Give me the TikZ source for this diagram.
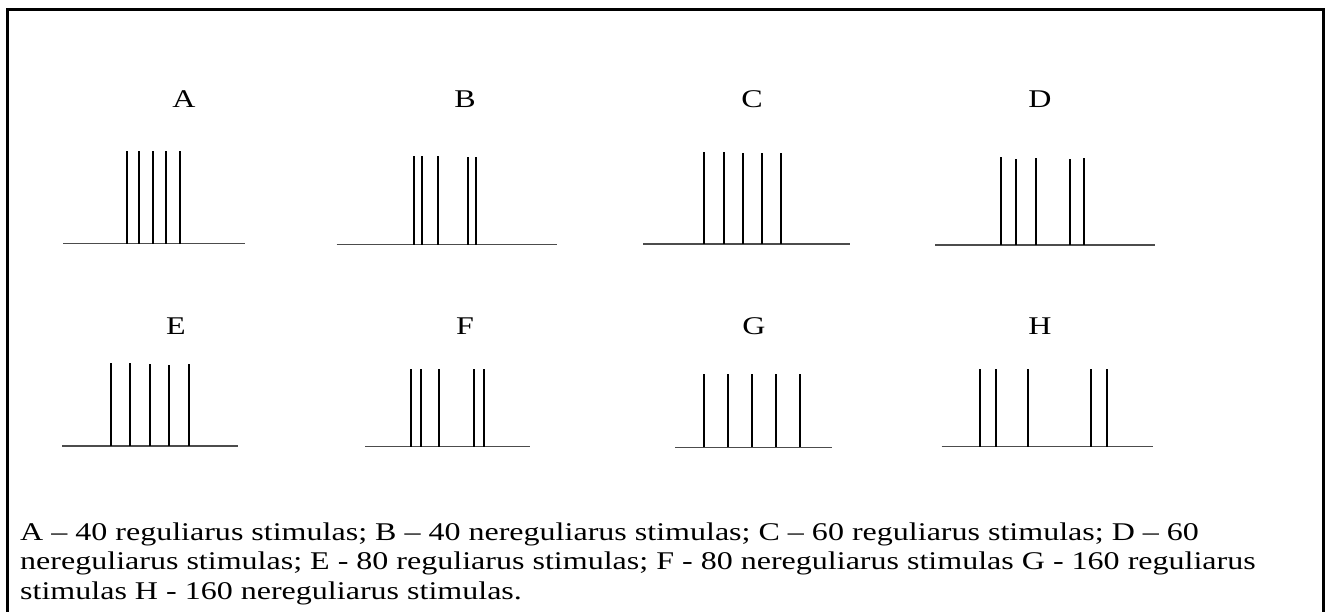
\documentclass[tikz,border=0pt]{standalone}
\usepackage{fontspec}
\usepackage{graphicx}
\setmainfont{Liberation Serif}
\newcommand{\wide}[1]{\scalebox{1.256}[1]{#1}}
\begin{document}
\begin{tikzpicture}[x=1pt,y=-1pt,
  spike/.style={line width=2.3pt, line cap=butt},
  base/.style={line width=1.1pt, black!70},
  frame/.style={line width=2.7pt},
  lbl/.style={font=\fontsize{25.5}{29}\selectfont, inner sep=0pt, anchor=base},
  captxt/.style={font=\fontsize{25.5}{29}\selectfont, inner sep=0pt, anchor=base west}]
\useasboundingbox (0,0) rectangle (1331,612);
\draw[frame] (7.5,640) -- (7.5,9.5) -- (1323.5,9.5) -- (1323.5,640);
% labels
\node[lbl] (lA) at (184,108) {\wide{A}};
\node[lbl] (lB) at (465,108) {\wide{B}};
\node[lbl] (lC) at (752,108) {\wide{C}};
\node[lbl] (lD) at (1040,108) {\wide{D}};
\node[lbl] (lE) at (176,335) {\wide{E}};
\node[lbl] (lF) at (465,335) {\wide{F}};
\node[lbl] (lG) at (754,335) {\wide{G}};
\node[lbl] (lH) at (1040,335) {\wide{H}};
% panel A
\draw[base] (63,243.7) -- (245,243.7);
\foreach \x in {126.7,139.3,153,166.3,180} \draw[spike] (\x,243.7) -- (\x,150.7);
% panel B
\draw[base] (336.7,244.7) -- (556.7,244.7);
\foreach \x/\t in {413.7/155.7,422/155.7,438/155.7,468/157.3,476.3/157.3} \draw[spike] (\x,244.7) -- (\x,\t);
% panel C
\draw[base] (643.3,244) -- (850,244);
\foreach \x/\t in {704.3/152.3,723.7/152.5,742.7/153.3,762/153.3,781.3/153.3} \draw[spike] (\x,244) -- (\x,\t);
% panel D
\draw[base] (935,245) -- (1155,245);
\foreach \x/\t in {1001.3/157.3,1015.7/158.7,1036.3/158.3,1070.3/158.7,1084.3/158.3} \draw[spike] (\x,245) -- (\x,\t);
% panel E
\draw[base] (62.3,446) -- (238.3,446);
\foreach \x/\t in {111/363.3,130.3/363.3,150/364.5,169.3/364.7,189/364} \draw[spike] (\x,446) -- (\x,\t);
% panel F
\draw[base] (365,446.7) -- (530,446.7);
\foreach \x in {411,421,439,474.3,484} \draw[spike] (\x,446.7) -- (\x,369);
% panel G
\draw[base] (675,447.3) -- (831.7,447.3);
\foreach \x in {704.3,728.3,752,776,799.7} \draw[spike] (\x,447.3) -- (\x,374);
% panel H
\draw[base] (941.7,446.7) -- (1153.3,446.7);
\foreach \x in {980.3,996.3,1027.7,1091,1107} \draw[spike] (\x,446.7) -- (\x,369);
% caption
\node[captxt] (c1) at (20,540) {\wide{A – 40 reguliarus stimulas; B – 40 nereguliarus stimulas; C – 60 reguliarus stimulas; D – 60}};
\node[captxt] (c2) at (20,569.5) {\wide{nereguliarus stimulas; E - 80 reguliarus stimulas; F - 80 nereguliarus stimulas G - 160 reguliarus}};
\node[captxt] (c3) at (20,599) {\wide{stimulas H - 160 nereguliarus stimulas.}};
\end{tikzpicture}
\end{document}
